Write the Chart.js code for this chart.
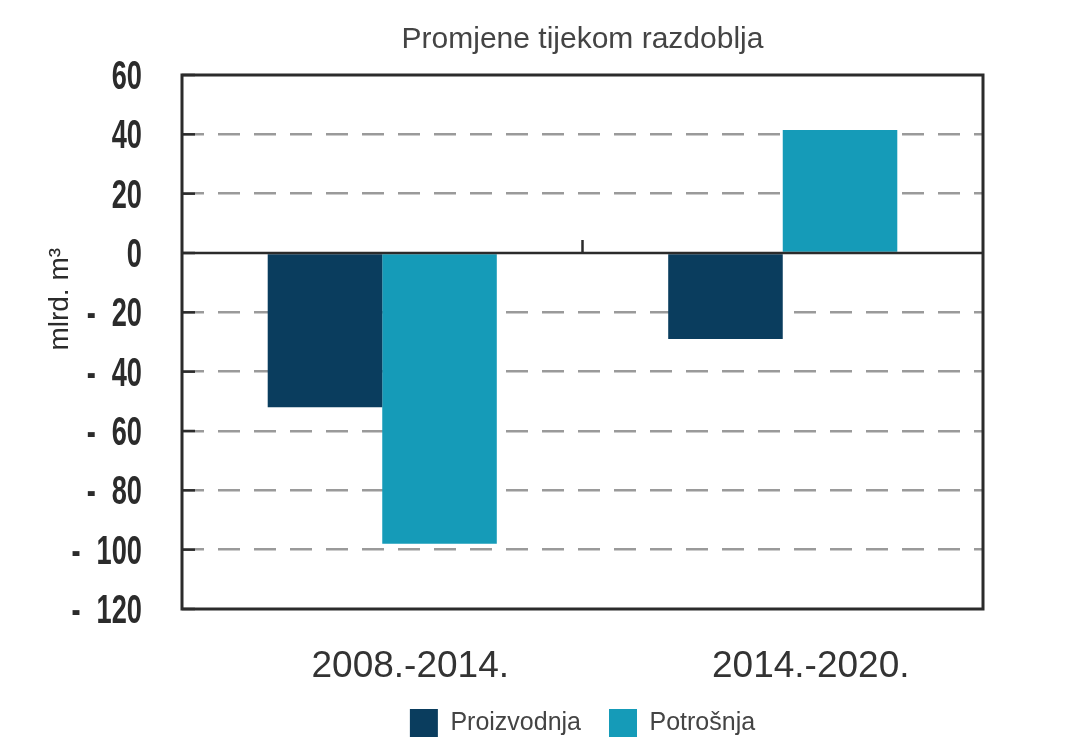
<!DOCTYPE html>
<html>
<head>
<meta charset="utf-8">
<script src="https://cdn.jsdelivr.net/npm/chart.js@4"></script>
<style>
  html, body { margin: 0; padding: 0; background: #ffffff; }
  #wrap { width: 1066px; height: 740px; }
</style>
</head>
<body>
<div id="wrap"><canvas id="chart" width="1066" height="740"></canvas></div>
<script>
// ---------- Data ----------

const categories = ["2008.-2014.", "2014.-2020."];

const proizvodnja = [-52, -29];
const potrosnja = [-98, 41.5];

const yMin = -120;
const yMax = 60;
const yStep = 20;

// ---------- Frame, zero line, inner ticks, narrow y labels ----------

const framePlugin = {
    id: "frame",
    afterDatasetsDraw(chart) {
        const ctx = chart.ctx;
        const a = chart.chartArea;
        const y = chart.scales.y;
        const x = chart.scales.x;

        ctx.save();

        // inner ticks on the left axis
        ctx.strokeStyle = "#2b2b2b";
        ctx.lineWidth = 2.5;
        y.ticks.forEach(t => {
            const py = y.getPixelForValue(t.value);
            ctx.beginPath();
            ctx.moveTo(a.left, py);
            ctx.lineTo(a.left + 13, py);
            ctx.stroke();
        });

        // zero line
        const zy = y.getPixelForValue(0);
        ctx.beginPath();
        ctx.moveTo(a.left, zy);
        ctx.lineTo(a.right, zy);
        ctx.stroke();

        // tick between the two categories
        const mx = x.getPixelForValue(0.5);
        ctx.beginPath();
        ctx.moveTo(mx, zy);
        ctx.lineTo(mx, zy - 13);
        ctx.stroke();

        // box
        ctx.lineWidth = 3;
        ctx.strokeRect(a.left, a.top, a.right - a.left, a.bottom - a.top);

        // y tick labels, condensed bold
        ctx.fillStyle = "#2b2b2b";
        ctx.font = "bold 40px 'Liberation Sans', Arial, sans-serif";
        ctx.textBaseline = "alphabetic";
        const sx = 0.68;
        const right = a.left - 40;
        y.ticks.forEach(t => {
            const py = y.getPixelForValue(t.value) + 14;
            const num = String(Math.abs(t.value));
            const w = ctx.measureText(num).width * sx;
            ctx.save();
            ctx.translate(right, py);
            ctx.scale(sx, 1);
            ctx.textAlign = "right";
            ctx.fillText(num, 0, 0);
            if (t.value < 0) {
                ctx.fillText("-", -(w + 16) / sx, 0);
            }
            ctx.restore();
        });

        // axis title
        ctx.font = "28px 'Liberation Sans', Arial, sans-serif";
        ctx.textAlign = "center";
        ctx.textBaseline = "middle";
        ctx.translate(60, a.top + (a.bottom - a.top) * 0.42);
        ctx.rotate(-Math.PI / 2);
        ctx.fillText("mlrd. m³", 0, 0);

        ctx.restore();
    }
};

// ---------- Chart ----------

new Chart(document.getElementById("chart"), {
    type: "bar",
    data: {
        labels: categories,
        datasets: [
            {
                label: "Proizvodnja",
                data: proizvodnja,
                backgroundColor: "#0a3d5e"
            },
            {
                label: "Potrošnja",
                data: potrosnja,
                backgroundColor: "#159bb8"
            }
        ]
    },
    options: {
        responsive: false,
        animation: false,
        layout: {
            padding: { left: 0, right: 83, top: 0, bottom: -7 }
        },
        plugins: {
            title: {
                display: true,
                fullSize: false,
                text: "Promjene tijekom razdoblja",
                color: "#444444",
                font: { family: "'Liberation Sans', Arial, sans-serif", size: 30, weight: "normal" },
                padding: { top: 22, bottom: 17 }
            },
            legend: {
                position: "bottom",
                fullSize: false,
                labels: {
                    boxWidth: 28,
                    boxHeight: 28,
                    padding: 28,
                    color: "#444444",
                    font: { family: "'Liberation Sans', Arial, sans-serif", size: 25 }
                }
            },
            tooltip: { enabled: false }
        },
        datasets: {
            bar: {
                categoryPercentage: 0.572,
                barPercentage: 1.0
            }
        },
        scales: {
            x: {
                afterFit(scale) { scale.height = 72; },
                grid: { display: false },
                border: { display: false },
                ticks: {
                    color: "#333333",
                    padding: 28,
                    labelOffset: 28,
                    font: { family: "'Liberation Sans', Arial, sans-serif", size: 37 }
                }
            },
            y: {
                min: yMin,
                max: yMax,
                afterFit(scale) { scale.width = 182; },
                grid: {
                    drawTicks: false,
                    lineWidth: 2.5,
                    color: ctx => (ctx.tick && (ctx.tick.value === 0 || ctx.tick.value === yMin || ctx.tick.value === yMax)) ? "rgba(0,0,0,0)" : "#9a9a9a"
                },
                border: { display: false, dash: [22, 14] },
                ticks: {
                    stepSize: yStep,
                    display: false
                }
            }
        }
    },
    plugins: [framePlugin]
});
</script>
</body>
</html>
